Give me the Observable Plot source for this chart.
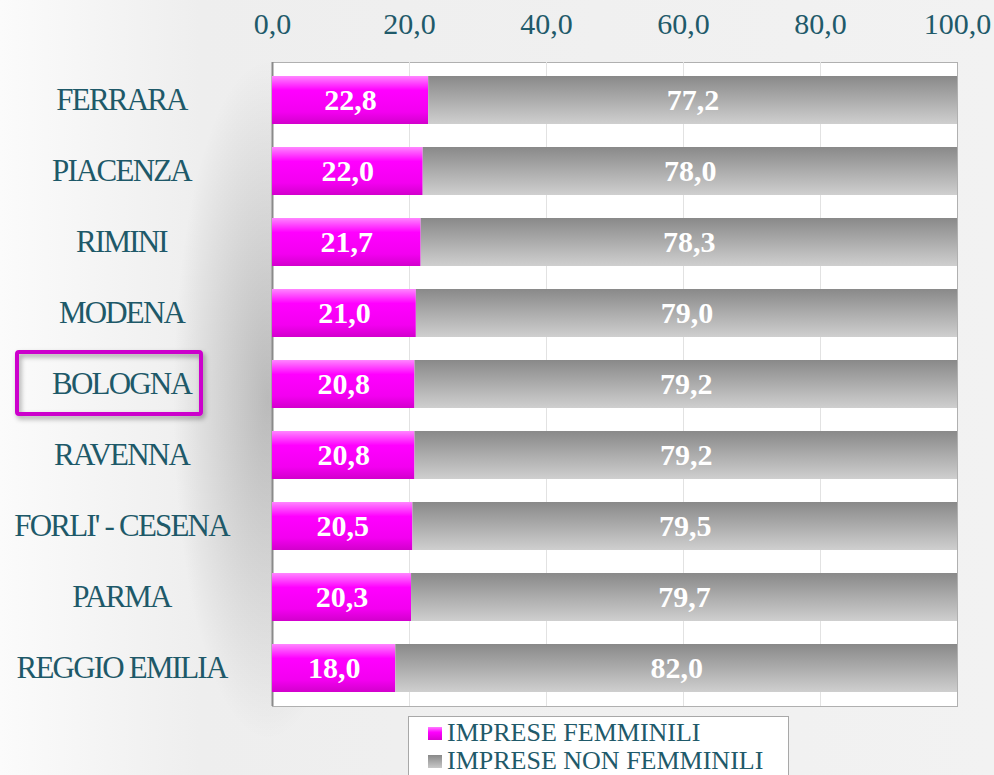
<!DOCTYPE html>
<html><head><meta charset="utf-8">
<script src="https://cdn.jsdelivr.net/npm/d3@7"></script>
<script src="https://cdn.jsdelivr.net/npm/@observablehq/plot@0.6"></script>
<style>
html,body{margin:0;padding:0;}
body{width:994px;height:775px;overflow:hidden;position:relative;font-family:"Liberation Serif","DejaVu Serif",serif;
background:
 radial-gradient(ellipse 95px 340px at 268px 400px, rgba(0,0,0,0.22), rgba(0,0,0,0) 100%),
 linear-gradient(to right, #fbfbfb 0px, #eeeeee 200px, #f2f2f2 994px);}
#chart{position:absolute;left:0;top:0;}
#legend{position:absolute;left:408px;top:716px;width:381px;height:70px;background:#fff;border:1px solid #a8a8a8;box-sizing:border-box;}
.li{position:absolute;left:19px;font-size:26px;color:#1f5a6a;line-height:26px;white-space:nowrap;}
.sw{display:inline-block;width:14px;height:13px;margin-right:5px;vertical-align:1px;}
</style></head>
<body>
<div id="chart"></div>
<div id="legend">
 <div class="li" style="top:3px"><span class="sw" style="background:linear-gradient(#ff7cff,#ff00ff 40%,#d800d0)"></span>IMPRESE FEMMINILI</div>
 <div class="li" style="top:31px"><span class="sw" style="background:linear-gradient(#888,#c8c8c8)"></span>IMPRESE NON FEMMINILI</div>
</div>
<script>
const cities = ["FERRARA","PIACENZA","RIMINI","MODENA","BOLOGNA","RAVENNA","FORLI' - CESENA","PARMA","REGGIO EMILIA"];
const femminili = [22.8,22.0,21.7,21.0,20.8,20.8,20.5,20.3,18.0];
const nonFemminili = [77.2,78.0,78.3,79.0,79.2,79.2,79.5,79.7,82.0];
const xTicks = [0,20,40,60,80,100];
const highlighted = "BOLOGNA";

const rows = cities.map((c,i)=>({city:c, f:femminili[i], nf:nonFemminili[i]}));
const fmt = d => d.toFixed(1).replace(".", ",");
const teal = "#1f5a6a";
const catColor = "#1e5969";

const chart = Plot.plot({
  width: 994, height: 712,
  marginLeft: 272, marginRight: 37, marginTop: 62, marginBottom: 6,
  style: {background: "transparent", fontFamily: "'Liberation Serif', serif"},
  x: {domain: [0,100], label: null},
  y: {domain: cities, paddingInner: 0.33, paddingOuter: 0.165, axis: null},
  marks: [
    Plot.frame({fill: "white", stroke: "#b0b0b0"}),
    Plot.gridX([20,40,60,80], {stroke: "#e2e2e2", strokeOpacity: 1}),
    Plot.ruleX([0], {stroke: "#8a8a8a", strokeWidth: 2}),
    Plot.axisX({anchor: "top", ticks: xTicks, tickFormat: fmt, tickSize: 0, tickPadding: 29, fontSize: 30, fill: teal, label: null}),
    Plot.barX(rows, {y: "city", x1: 0, x2: "f", fill: "url(#gPink)"}),
    Plot.barX(rows, {y: "city", x1: "f", x2: 100, fill: "url(#gGray)"}),
    Plot.text(rows, {y: "city", x: d => d.f/2, text: d => fmt(d.f), fill: "white", fontSize: 30, fontWeight: "bold"}),
    Plot.text(rows, {y: "city", x: d => d.f + d.nf/2, text: d => fmt(d.nf), fill: "white", fontSize: 30, fontWeight: "bold"}),
    Plot.text(cities, {y: d => d, frameAnchor: "left", dx: -151, textAnchor: "middle", fill: catColor, fontSize: 31})
  ]
});

const svg = d3.select(chart);
svg.style("overflow","visible");
svg.selectAll(`g[fill='${catColor}']`).style("letter-spacing","-1.8px");
const defs = svg.insert("defs", ":first-child");
const gp = defs.append("linearGradient").attr("id","gPink").attr("x1",0).attr("x2",0).attr("y1",0).attr("y2",1);
gp.append("stop").attr("offset","0%").attr("stop-color","#ff86ff");
gp.append("stop").attr("offset","30%").attr("stop-color","#ff00ff");
gp.append("stop").attr("offset","75%").attr("stop-color","#f300f0");
gp.append("stop").attr("offset","100%").attr("stop-color","#d200cc");
const gg = defs.append("linearGradient").attr("id","gGray").attr("x1",0).attr("x2",0).attr("y1",0).attr("y2",1);
gg.append("stop").attr("offset","0%").attr("stop-color","#898989");
gg.append("stop").attr("offset","100%").attr("stop-color","#cfcfcf");
const sh = defs.append("filter").attr("id","sh").attr("x","-20%").attr("y","-30%").attr("width","140%").attr("height","160%");
sh.append("feDropShadow").attr("dx",2).attr("dy",3).attr("stdDeviation",2.5).attr("flood-color","#000").attr("flood-opacity",0.35);

const yc = chart.scale("y").apply(highlighted) + chart.scale("y").bandwidth/2;
svg.append("rect").attr("x",17).attr("y",yc-32).attr("width",184).attr("height",62)
  .attr("rx",2).attr("fill","none").attr("stroke","#cc00cc").attr("stroke-width",4).attr("filter","url(#sh)");

document.getElementById("chart").appendChild(chart);
</script>
</body></html>
